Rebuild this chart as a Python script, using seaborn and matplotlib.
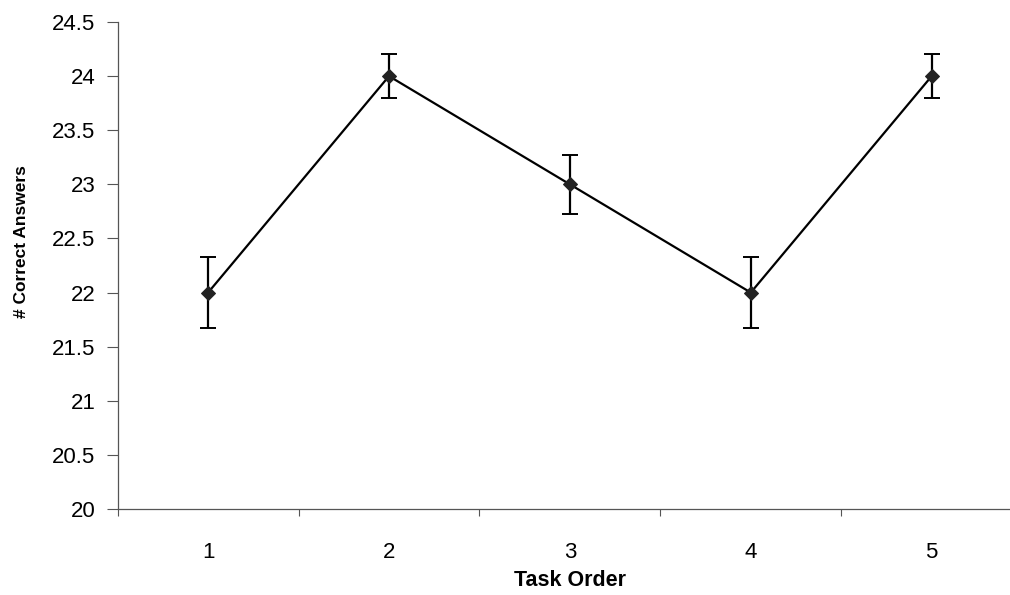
import matplotlib
matplotlib.use("Agg")
import matplotlib.pyplot as plt
import numpy as np
import pandas as pd
import seaborn as sns

# Mean number of correct answers by position of the task
task_order = [1, 2, 3, 4, 5]
correct_answers = [22.0, 24.0, 23.0, 22.0, 24.0]
error = [0.33, 0.2, 0.27, 0.33, 0.2]
y_ticks = [20, 20.5, 21, 21.5, 22, 22.5, 23, 23.5, 24, 24.5]

df = pd.DataFrame({"Task Order": task_order, "Correct": correct_answers, "err": error})

sns.set_style("white")
plt.rcParams["font.family"] = ["Liberation Sans", "DejaVu Sans"]
plt.rcParams["text.color"] = "black"
plt.rcParams["axes.labelcolor"] = "black"
plt.rcParams["xtick.color"] = "black"
plt.rcParams["ytick.color"] = "black"

fig = plt.figure(figsize=(10.10, 5.95), dpi=100)
ax = fig.add_axes([0.1165, 0.1445, 0.8955, 0.8185])

ax.errorbar(df["Task Order"], df["Correct"], yerr=df["err"], fmt="none",
            ecolor="black", elinewidth=1.6, capsize=5.5, capthick=1.4, zorder=2)
sns.lineplot(data=df, x="Task Order", y="Correct", ax=ax, color="black",
             linewidth=1.6, marker="D", markersize=7, markeredgecolor="#222222",
             markerfacecolor="#222222", zorder=3)

ax.set_xlim(0.5, 5.5)
ax.set_ylim(20, 24.5)
ax.set_yticks(y_ticks)
ax.set_yticklabels([f"{v:g}" for v in y_ticks])
ax.set_xticks(task_order)
ax.set_xticklabels([str(t) for t in task_order])
# boundary tick marks between categories
ax.set_xticks(np.arange(0.5, 5.6, 1.0), minor=True)
ax.tick_params(axis="x", which="major", bottom=False, length=0, pad=24, labelsize=16,
               labelcolor="black")
ax.tick_params(axis="x", which="minor", bottom=True, length=5, width=0.8,
               color="#555555", direction="out")
ax.tick_params(axis="y", which="major", left=True, length=8, width=0.8, color="#555555",
               direction="out", pad=8, labelsize=16, labelcolor="black")

for side in ["top", "right"]:
    ax.spines[side].set_visible(False)
for side in ["left", "bottom"]:
    ax.spines[side].set_color("#555555")
    ax.spines[side].set_linewidth(0.9)

ax.set_xlabel("Task Order", fontsize=15.5, fontweight="bold", color="black")
ax.set_ylabel("# Correct Answers", fontsize=12.5, fontweight="bold", color="black")
ax.yaxis.set_label_coords(-0.098, 0.55)
ax.xaxis.set_label_coords(0.5, -0.126)

fig.savefig("out.png", dpi=100)
